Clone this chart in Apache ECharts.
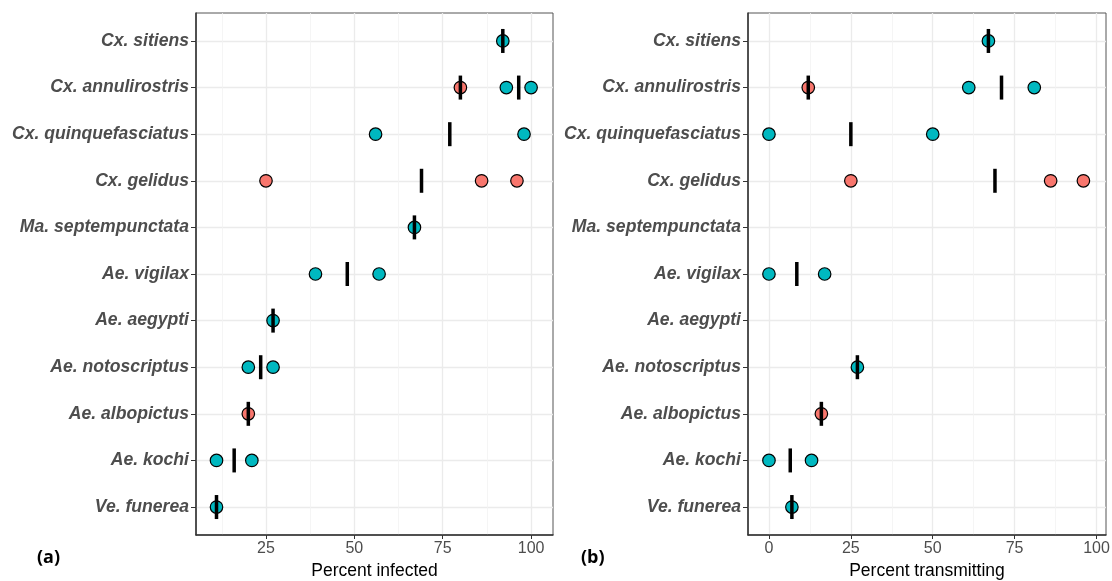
<!DOCTYPE html>
<html>
<head>
<meta charset="utf-8">
<script src="https://cdn.jsdelivr.net/npm/echarts@6/dist/echarts.min.js"></script>
<style>
  html, body { margin: 0; padding: 0; background: #fff; }
  #chart { width: 1112px; height: 581px; }
</style>
</head>
<body>
<div id="chart"></div>
<script>
// species, top to bottom
const species = [
  'Cx. sitiens', 'Cx. annulirostris', 'Cx. quinquefasciatus', 'Cx. gelidus',
  'Ma. septempunctata', 'Ae. vigilax', 'Ae. aegypti', 'Ae. notoscriptus',
  'Ae. albopictus', 'Ae. kochi', 'Ve. funerea'
];

// panel (a) percent infected
const infectedTeal = [
  ['Cx. sitiens', 92], ['Cx. annulirostris', 93], ['Cx. annulirostris', 100],
  ['Cx. quinquefasciatus', 56], ['Cx. quinquefasciatus', 98],
  ['Ma. septempunctata', 67], ['Ae. vigilax', 39], ['Ae. vigilax', 57],
  ['Ae. aegypti', 27], ['Ae. notoscriptus', 20], ['Ae. notoscriptus', 27],
  ['Ae. kochi', 11], ['Ae. kochi', 21], ['Ve. funerea', 11]
];
const infectedRed = [
  ['Cx. annulirostris', 80], ['Cx. gelidus', 25], ['Cx. gelidus', 86],
  ['Cx. gelidus', 96], ['Ae. albopictus', 20]
];
const infectedMean = [
  ['Cx. sitiens', 92], ['Cx. annulirostris', 80], ['Cx. annulirostris', 96.5],
  ['Cx. quinquefasciatus', 77], ['Cx. gelidus', 69], ['Ma. septempunctata', 67],
  ['Ae. vigilax', 48], ['Ae. aegypti', 27], ['Ae. notoscriptus', 23.5],
  ['Ae. albopictus', 20], ['Ae. kochi', 16], ['Ve. funerea', 11]
];

// panel (b) percent transmitting
const transTeal = [
  ['Cx. sitiens', 67], ['Cx. annulirostris', 61], ['Cx. annulirostris', 81],
  ['Cx. quinquefasciatus', 0], ['Cx. quinquefasciatus', 50],
  ['Ae. vigilax', 0], ['Ae. vigilax', 17], ['Ae. notoscriptus', 27],
  ['Ae. kochi', 0], ['Ae. kochi', 13], ['Ve. funerea', 7]
];
const transRed = [
  ['Cx. annulirostris', 12], ['Cx. gelidus', 25], ['Cx. gelidus', 86],
  ['Cx. gelidus', 96], ['Ae. albopictus', 16]
];
const transMean = [
  ['Cx. sitiens', 67], ['Cx. annulirostris', 12], ['Cx. annulirostris', 71],
  ['Cx. quinquefasciatus', 25], ['Cx. gelidus', 69], ['Ae. vigilax', 8.5],
  ['Ae. notoscriptus', 27], ['Ae. albopictus', 16], ['Ae. kochi', 6.5],
  ['Ve. funerea', 7]
];

const ticksA = [25, 50, 75, 100];
const ticksB = [0, 25, 50, 75, 100];
const minorTicks = [12.5, 37.5, 62.5, 87.5];

const font = '"Liberation Sans", Arial, sans-serif';
const toPts = arr => arr.map(d => [d[1], species.indexOf(d[0])]);
const idx = species.map((s, i) => i);

function mainX(grid, min, max, ticks, name) {
  return {
    type: 'value', gridIndex: grid, min: min, max: max, position: 'bottom',
    name: name, nameLocation: 'middle', nameGap: 26,
    nameTextStyle: { color: '#000', fontSize: 17.5, fontFamily: font },
    axisLine: { show: true, onZero: false, lineStyle: { color: '#333', width: 1.5 } },
    axisTick: { show: true, length: 4, customValues: ticks, lineStyle: { color: '#333' } },
    axisLabel: { customValues: ticks, margin: 6, color: '#4D4D4D', fontSize: 16, fontFamily: font },
    splitLine: { show: true, lineStyle: { color: '#EBEBEB', width: 1.3 } }
  };
}
function minorX(grid, min, max) {
  return {
    type: 'value', gridIndex: grid, min: min, max: max, position: 'bottom',
    axisLine: { show: false }, axisLabel: { show: false },
    axisTick: { show: false, customValues: minorTicks },
    splitLine: { show: true, lineStyle: { color: '#F2F2F2', width: 0.8 } }
  };
}
function speciesY(grid) {
  return {
    type: 'value', gridIndex: grid, inverse: true, min: -0.6, max: 10.6,
    axisLine: { show: true, onZero: false, lineStyle: { color: '#333', width: 1.5 } },
    axisTick: { show: true, length: 5, customValues: idx, lineStyle: { color: '#333' } },
    axisLabel: {
      customValues: idx, margin: 7, formatter: v => species[v],
      color: '#4D4D4D', fontSize: 17.6, fontStyle: 'italic', fontWeight: 'bold', fontFamily: font
    },
    splitLine: { show: true, lineStyle: { color: '#EBEBEB', width: 1.3 } }
  };
}
function dots(xi, yi, data, color) {
  return {
    type: 'scatter', xAxisIndex: xi, yAxisIndex: yi, data: toPts(data),
    symbol: 'circle', symbolSize: 12.5, z: 3,
    itemStyle: { color: color, borderColor: '#000', borderWidth: 1.2, opacity: 1 }
  };
}
function bars(xi, yi, data) {
  return {
    type: 'scatter', xAxisIndex: xi, yAxisIndex: yi, data: toPts(data),
    symbol: 'rect', symbolSize: [3.5, 24], z: 4,
    itemStyle: { color: '#000', opacity: 1 }
  };
}

const chart = echarts.init(document.getElementById('chart'), null, { renderer: 'canvas' });
chart.setOption({
  animation: false,
  backgroundColor: '#fff',
  grid: [
    { left: 196, right: 559, top: 13, bottom: 46, show: true, borderColor: '#555', borderWidth: 1, outerBoundsMode: 'none' },
    { left: 748, right: 6, top: 13, bottom: 46, show: true, borderColor: '#555', borderWidth: 1, outerBoundsMode: 'none' }
  ],
  xAxis: [
    mainX(0, 5.2, 106.2, ticksA, 'Percent infected'),
    mainX(1, -6.4, 102.9, ticksB, 'Percent transmitting'),
    minorX(0, 5.2, 106.2),
    minorX(1, -6.4, 102.9)
  ],
  yAxis: [speciesY(0), speciesY(1)],
  graphic: [
    { type: 'text', left: 37, top: 549, style: { text: '(a)', fill: '#000', font: 'bold 18px "Open Sans", sans-serif' } },
    { type: 'text', left: 581, top: 549, style: { text: '(b)', fill: '#000', font: 'bold 18px "Open Sans", sans-serif' } }
  ],
  series: [
    dots(0, 0, infectedTeal, '#00B8C0'),
    dots(0, 0, infectedRed, '#F8766D'),
    bars(0, 0, infectedMean),
    dots(1, 1, transTeal, '#00B8C0'),
    dots(1, 1, transRed, '#F8766D'),
    bars(1, 1, transMean)
  ]
});
</script>
</body>
</html>
